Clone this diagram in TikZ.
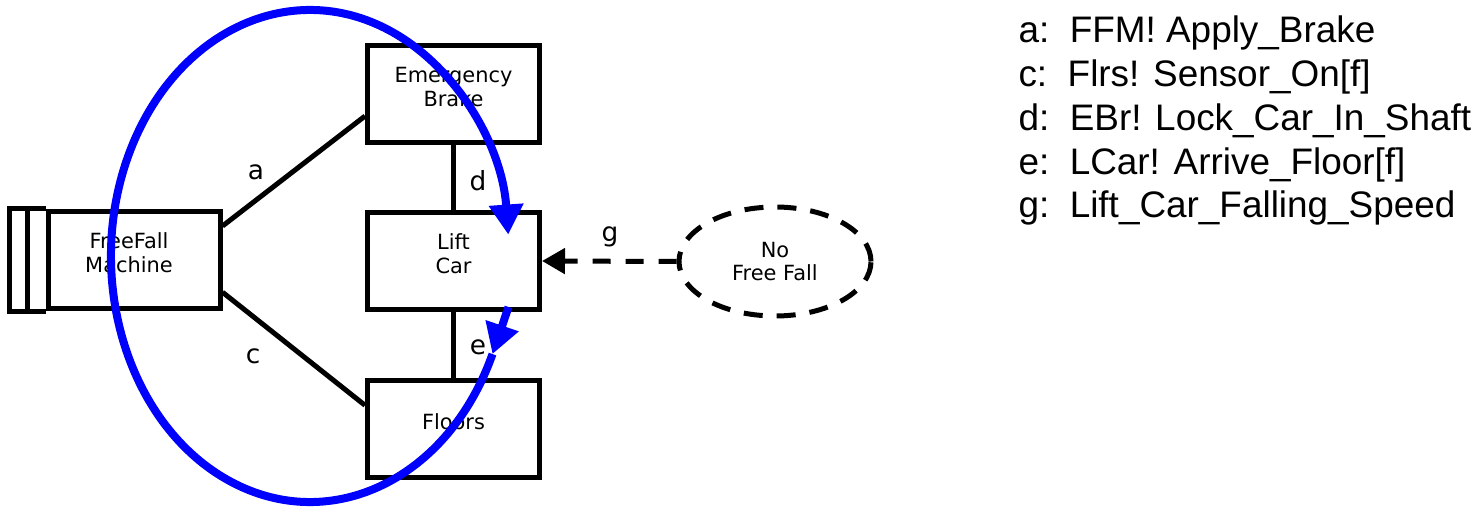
\documentclass[tikz,border=0pt]{standalone}
\usepackage{fontspec}
\setmainfont{Liberation Sans}
\newfontfamily\vfont{DejaVu Sans}
\usetikzlibrary{arrows.meta,calc,positioning,shapes}

\tikzset{
  pdom/.style={draw, minimum width=3.44cm, minimum height=1.94cm},
  pname/.style={align=center, yshift=0.14cm, font=\vfont\fontsize{11.9}{13.6}\selectfont},
  phen/.style={font=\vfont\fontsize{15}{18}\selectfont, inner sep=0pt}
}

\begin{document}
\begin{tikzpicture}[>=latex, line width=0.1cm,
   req/.style={ellipse, draw, dashed, dash pattern=on 0.38cm off 0.28cm,
               minimum width=3.84cm, minimum height=2.18cm, align=center,
               font=\vfont\fontsize{11.9}{13.6}\selectfont},
   flow/.style={blue, line width=0.16cm, -{Triangle[length=0.6cm,width=0.66cm]}}]

   \useasboundingbox (0,0) rectangle (29.54,-10.14);

   % problem domains
   \node[pdom, label={[pname]center:Emergency\\Brake}] (ebrake) at (9.07,-1.88) {};
   \node[pdom, label={[pname]center:Lift\\Car}]        (lcar)   at (9.07,-5.22) {};
   \node[pdom, label={[pname]center:Floors}]           (floors) at (9.07,-8.58) {};
   \node[pdom, label={[pname,xshift=-0.1cm]center:FreeFall\\Machine}] (ffm) at (2.68,-5.20) {};

   % machine stripes
   \draw (ffm.north west) -- ++(-0.72,0) |- (ffm.south west);
   \draw ($(ffm.north west)+(-0.36,0)$) -- ($(ffm.south west)+(-0.36,0)$);

   % requirement
   \node[req] (nofall) at (15.5,-5.23) {No\\Free Fall};

   % interfaces
   \draw (ffm.21) -- (ebrake.194);
   \draw (ffm.-20) -- (floors.165);
   \draw (ebrake) -- (lcar);
   \draw (lcar) -- (floors);
   \draw[dashed, dash pattern=on 0.36cm off 0.3cm, -{Triangle[length=0.46cm,width=0.5cm]}]
        (nofall.west) -- (lcar.east);

   \node[phen] (lbla) at (5.12,-3.44) {a};
   \node[phen] (lblc) at (5.06,-7.12) {c};
   \node[phen] (lbld) at (9.56,-3.62) {d};
   \node[phen] (lble) at (9.56,-6.94) {e};
   \node[phen] (lblg) at (12.2,-4.74) {g};

   % phenomena key
   \node[anchor=north west, align=left, inner sep=0pt,
         font=\fontsize{21}{25}\selectfont] (keys) at (20.32,-0.26)
        {a:\ \ FFM! Apply\_Brake\\
         c:\ \ Flrs! Sensor\_On[f]\\
         d:\ \ EBr! Lock\_Car\_In\_Shaft\\
         e:\ \ LCar! Arrive\_Floor[f]\\
         g:\ \ Lift\_Car\_Falling\_Speed};

   % causal chain
   \coordinate (loop) at (6.2,-5.12);
   \coordinate (etip) at ($(loop)+(-23.5:3.98 and 4.92)$);
   \draw[flow] ($(lcar.south)+(1.1,0.1)$) -- (etip);
   \draw[flow] (etip) arc[start angle=-23.5, end angle=-355, x radius=3.98, y radius=4.92];

\end{tikzpicture}
\end{document}
